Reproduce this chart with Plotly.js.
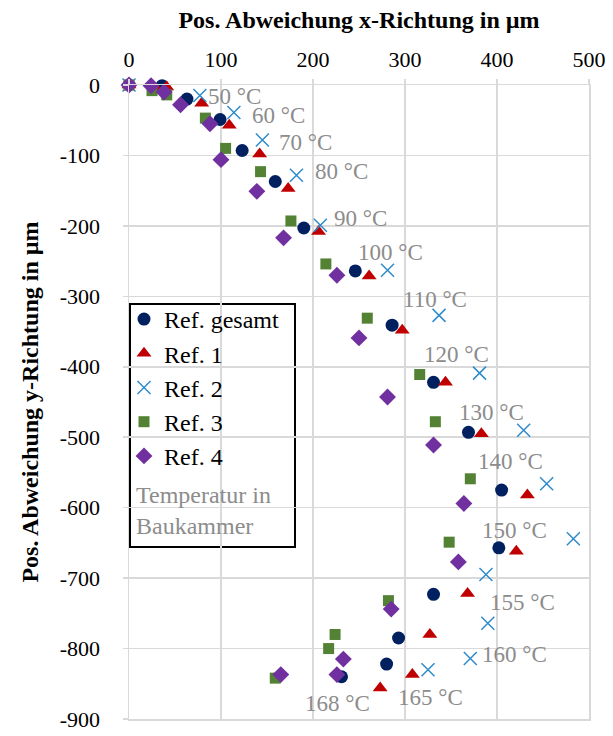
<!DOCTYPE html>
<html>
<head>
<meta charset="utf-8">
<script src="https://cdn.plot.ly/plotly-3.0.1.min.js"></script>
<style>
  html, body { margin: 0; padding: 0; background: #ffffff; }
  #chart { width: 613px; height: 736px; }
</style>
</head>
<body>
<div id="chart"></div>
<script>
// Positional deviation per build-chamber temperature (µm), one series per reference
const gesamtX = [0, 36, 63, 99, 123, 159, 190, 246, 286, 331, 369, 405, 402, 331, 293, 280, 231];
const gesamtY = [0, -1, -20, -49, -93, -137, -203, -264, -341, -422, -493, -575, -657, -723, -785, -822, -840];

const ref1X = [0, 30, 41, 79, 109, 142, 173, 206, 261, 297, 344, 383, 433, 421, 368, 327, 308, 273];
const ref1Y = [0, -6, -3, -26, -57, -98, -147, -208, -271, -348, -422, -495, -582, -662, -722, -780, -837, -856];

const ref2X = [0, 77, 114, 145, 182, 208, 281, 337, 381, 429, 454, 483, 388, 390, 371, 325];
const ref2Y = [0, -15, -39, -78, -128, -199, -263, -327, -409, -490, -566, -644, -695, -764, -814, -830];

const ref3X = [0, 25, 41, 83, 105, 143, 176, 214, 259, 316, 333, 371, 348, 282, 224, 217, 159];
const ref3Y = [0, -8, -14, -47, -90, -123, -193, -254, -331, -411, -478, -559, -649, -732, -780, -800, -842];

const ref4X = [0, 24, 38, 56, 88, 100, 139, 168, 226, 250, 281, 331, 364, 358, 285, 233, 226, 165];
const ref4Y = [0, -1, -10, -28, -55, -106, -151, -217, -270, -359, -443, -511, -594, -677, -744, -815, -837, -837];

const seriesNames = ["Ref. gesamt", "Ref. 1", "Ref. 2", "Ref. 3", "Ref. 4"];

// Build-chamber temperature labels
const tempLabels = ["23 °C-<br>40 °C", "50 °C", "60 °C", "70 °C", "80 °C", "90 °C", "100 °C", "110 °C",
                    "120 °C", "130 °C", "140 °C", "150 °C", "155 °C", "160 °C", "165 °C", "168 °C"];

// Axis ticks
const xTicks = [0, 100, 200, 300, 400, 500];
const yTicks = [0, -100, -200, -300, -400, -500, -600, -700, -800, -900];
const yTickText = ["0", "-100", "-200", "-300", "-400", "-500", "-600", "-700", "-800", "-900"];

// Where each temperature label sits (data coordinates, left-anchored)
const labelAnchorX = [-28, 84, 131, 161, 200, 221, 247, 296, 319, 357, 377, 381, 390, 381, 290, 189];
const labelAnchorY = [-61, -16, -43, -81, -123, -189, -238, -305, -382, -465, -535, -633, -735, -809, -870, -878];

const FONT = "Liberation Serif, Times New Roman, serif";
const GRID = "#d9d9d9";
const GRAY_TEXT = "#8c8c8c";

function series(x, y, name, marker, group) {
  return {
    type: "scatter", mode: "markers", x: x, y: y, name: name,
    marker: marker, cliponaxis: false, legendgroup: group,
    hoverinfo: "x+y+name"
  };
}

const traces = [
  series(gesamtX, gesamtY, seriesNames[0], {symbol: "circle", size: 13, color: "#002060"}, "g0"),
  series(ref1X, ref1Y, seriesNames[1], {symbol: "triangle-up", size: 13, color: "#c00000"}, "g1"),
  series(ref2X, ref2Y, seriesNames[2], {symbol: "x-thin-open", size: 13, color: "#2e8bcb",
                                         line: {width: 1.5, color: "#2e8bcb"}}, "g2"),
  series(ref3X, ref3Y, seriesNames[3], {symbol: "square", size: 11, color: "#548235"}, "g3"),
  series(ref4X, ref4Y, seriesNames[4], {symbol: "diamond", size: 13, color: "#7030a0"}, "g4")
];

const annotations = tempLabels.map((t, i) => ({
  xref: "x", yref: "y", x: labelAnchorX[i], y: labelAnchorY[i],
  text: t, showarrow: false, xanchor: "left", yanchor: "middle", align: "left",
  font: {family: FONT, size: 23, color: GRAY_TEXT}
}));

// Caption inside the legend frame
annotations.push({
  xref: "paper", yref: "paper", x: (134 - 129) / 460, y: 1 - (510 - 85) / 634,
  text: "Temperatur in<br>Baukammer", showarrow: false,
  xanchor: "left", yanchor: "middle", align: "left",
  font: {family: FONT, size: 24, color: GRAY_TEXT}
});

const layout = {
  width: 613, height: 736,
  margin: {l: 129, r: 24, t: 85, b: 17},
  paper_bgcolor: "#ffffff", plot_bgcolor: "#ffffff",
  font: {family: FONT, size: 22, color: "#000000"},
  showlegend: true,
  legend: {
    x: (124 - 129) / 460, y: 1 - (297 - 85) / 634, xanchor: "left", yanchor: "top",
    bgcolor: "rgba(0,0,0,0)", borderwidth: 0,
    traceorder: "grouped", tracegroupgap: 0,
    font: {family: FONT, size: 24, color: "#000000"}
  },
  xaxis: {
    side: "top", range: [0, 500], tickvals: xTicks,
    showgrid: true, gridcolor: GRID, gridwidth: 1.5,
    zeroline: true, zerolinecolor: GRID, zerolinewidth: 1.5,
    showline: true, mirror: true, linecolor: GRID, linewidth: 1.5,
    ticks: "outside", ticklen: 5, tickcolor: GRID, tickwidth: 1.5,
    tickfont: {family: FONT, size: 22}, ticklabelstandoff: 3,
    title: {text: "<b>Pos. Abweichung x-Richtung in µm</b>", standoff: 11,
            font: {family: FONT, size: 24}},
    automargin: false, fixedrange: true
  },
  yaxis: {
    range: [-900, 0], tickvals: yTicks, ticktext: yTickText,
    showgrid: true, gridcolor: GRID, gridwidth: 1.5,
    zeroline: true, zerolinecolor: GRID, zerolinewidth: 1.5,
    showline: true, mirror: true, linecolor: GRID, linewidth: 1.5,
    ticks: "outside", ticklen: 5, tickcolor: GRID, tickwidth: 1.5,
    tickfont: {family: FONT, size: 22}, ticklabelstandoff: 18,
    title: {text: "<b>Pos. Abweichung y-Richtung in µm</b>", standoff: 14,
            font: {family: FONT, size: 24}},
    automargin: false, fixedrange: true
  },
  shapes: [{
    type: "rect", xref: "paper", yref: "paper", layer: "between",
    x0: (130 - 129) / 460, x1: (295 - 129) / 460,
    y0: 1 - (547 - 85) / 634, y1: 1 - (304 - 85) / 634,
    line: {color: "#000000", width: 2}, fillcolor: "#ffffff"
  }],
  annotations: annotations
};

Plotly.newPlot("chart", traces, layout, {displayModeBar: false, staticPlot: true});
</script>
</body>
</html>
